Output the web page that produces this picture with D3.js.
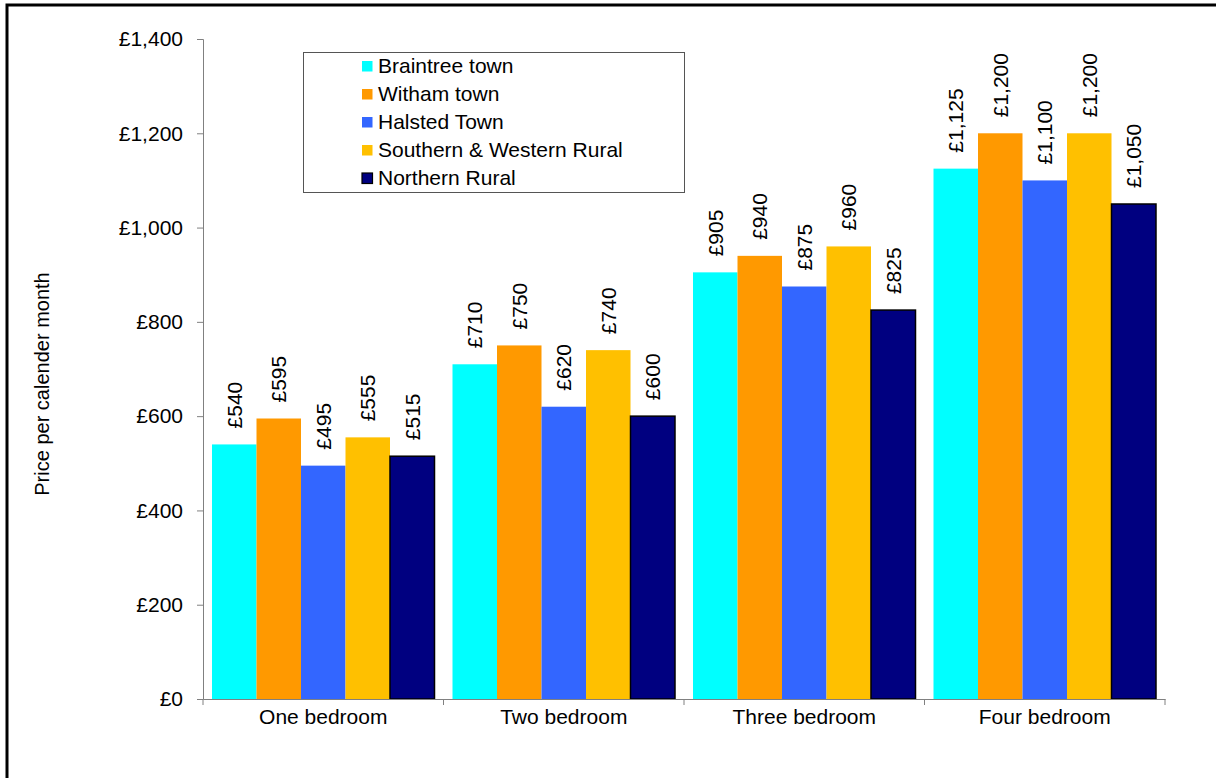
<!DOCTYPE html>
<html>
<head>
<meta charset="utf-8">
<script src="https://cdn.jsdelivr.net/npm/d3@7/dist/d3.min.js"></script>
<style>
  html, body { margin: 0; padding: 0; background: #fff; }
  svg { display: block; font-family: "Liberation Sans", Arial, sans-serif; }
</style>
</head>
<body>
<svg id="chart" width="1216" height="778"></svg>
<script>
const categories = ["One bedroom", "Two bedroom", "Three bedroom", "Four bedroom"];
const seriesNames = ["Braintree town", "Witham town", "Halsted Town", "Southern & Western Rural", "Northern Rural"];
const seriesColors = ["#00FFFF", "#FF9900", "#3366FF", "#FFC000", "#000080"];
const braintree = [540, 710, 905, 1125];
const witham = [595, 750, 940, 1200];
const halsted = [495, 620, 875, 1100];
const southernWestern = [555, 740, 960, 1200];
const northern = [515, 600, 825, 1050];
const yTicks = [0, 200, 400, 600, 800, 1000, 1200, 1400];
const yTitle = "Price per calender month";

const seriesValues = [braintree, witham, halsted, southernWestern, northern];

(function () {
const svg = d3.select("#chart");
const fmt = v => "£" + d3.format(",")(v);

// outer frame
svg.append("rect")
  .attr("x", 7).attr("y", 5)
  .attr("width", 1400).attr("height", 1000)
  .attr("fill", "none").attr("stroke", "#000").attr("stroke-width", 3);

const pLeft = 203, pRight = 1165, pTop = 39, pBottom = 699;

const x0 = d3.scaleBand().domain(categories).range([pLeft, pRight]).padding(0);
const x1 = d3.scaleBand().domain(seriesNames).range([9, x0.bandwidth() - 9]).padding(0);
const y = d3.scaleLinear().domain([0, 1400]).range([pBottom, pTop]);

// bars
const groups = svg.append("g").selectAll("g")
  .data(categories)
  .join("g")
  .attr("transform", d => `translate(${x0(d)},0)`);

groups.each(function(cat, ci) {
  const g = d3.select(this);
  seriesNames.forEach((s, si) => {
    const v = seriesValues[si][ci];
    g.append("rect")
      .attr("x", x1(s))
      .attr("y", y(v))
      .attr("width", x1.bandwidth())
      .attr("height", y(0) - y(v))
      .attr("fill", seriesColors[si])
      .attr("stroke", si === 4 ? "#000" : "none")
      .attr("stroke-width", si === 4 ? 1.5 : 0);
    const cx = x1(s) + x1.bandwidth() / 2;
    g.append("text")
      .attr("transform", `translate(${cx},${y(v) - 16}) rotate(-90)`)
      .attr("dy", "0.35em")
      .attr("text-anchor", "start")
      .attr("font-size", 21)
      .attr("fill", "#000")
      .text(fmt(v));
  });
});

// y axis
const yAxis = d3.axisLeft(y).tickValues(yTicks).tickFormat(fmt).tickSize(6).tickPadding(14);
const yg = svg.append("g").attr("transform", `translate(${pLeft},0)`).call(yAxis);
yg.select(".domain").attr("stroke", "#808080");
yg.selectAll(".tick line").attr("stroke", "#808080");
yg.selectAll(".tick text").attr("font-size", 21).attr("fill", "#000").attr("font-family", "Liberation Sans, Arial, sans-serif");

// x axis
const xAxis = d3.axisBottom(x0).tickSize(0).tickPadding(10);
const xg = svg.append("g").attr("transform", `translate(0,${pBottom})`).call(xAxis);
xg.select(".domain").attr("stroke", "#808080");
xg.selectAll(".tick text").attr("font-size", 21).attr("fill", "#000").attr("font-family", "Liberation Sans, Arial, sans-serif");
// category boundary ticks
const bounds = categories.map(c => x0(c)).concat([x0(categories[categories.length - 1]) + x0.bandwidth()]);
xg.selectAll(".bound").data(bounds).join("line")
  .attr("class", "bound")
  .attr("x1", d => d).attr("x2", d => d)
  .attr("y1", 0).attr("y2", 6)
  .attr("stroke", "#808080");

// y title
svg.append("text")
  .attr("transform", `translate(49,384) rotate(-90)`)
  .attr("text-anchor", "middle")
  .attr("font-size", 20)
  .attr("fill", "#000")
  .text(yTitle);

// legend
const lg = svg.append("g");
lg.append("rect")
  .attr("x", 303.5).attr("y", 52.5)
  .attr("width", 381).attr("height", 140)
  .attr("fill", "#fff").attr("stroke", "#555").attr("stroke-width", 1);
seriesNames.forEach((s, i) => {
  const ry = 61 + i * 28;
  lg.append("rect")
    .attr("x", 362).attr("y", ry)
    .attr("width", 10.5).attr("height", 10.5)
    .attr("fill", seriesColors[i])
    .attr("stroke", i === 4 ? "#000" : "none")
    .attr("stroke-width", i === 4 ? 1.2 : 0);
  lg.append("text")
    .attr("x", 378).attr("y", ry + 12)
    .attr("font-size", 21)
    .attr("fill", "#000")
    .text(s);
});
})();
</script>
</body>
</html>
